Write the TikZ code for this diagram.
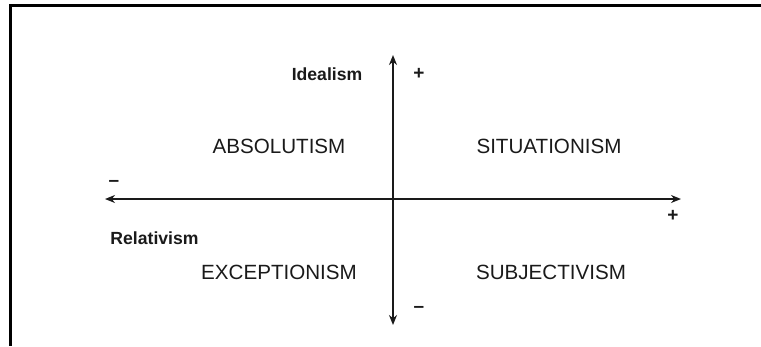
\documentclass[tikz,border=0pt]{standalone}
\usepackage{fontspec}
\setmainfont{Liberation Sans}
\usepackage{xcolor}
\definecolor{cInk}{HTML}{1A1A1A}
\usetikzlibrary{positioning,arrows.meta}
\tikzset{
  frame-line/.style={line width=2.6pt,draw=black},
  axis-arrow/.style={{Stealth[length=10pt,width=8pt]}-{Stealth[length=10pt,width=8pt]},line width=2.3pt,draw=cInk},
  quad-label/.style={inner sep=0pt,text=cInk,font=\fontsize{20.6}{24}\selectfont},
  axis-name/.style={inner sep=0pt,text=cInk,font=\bfseries\fontsize{17.6}{21}\selectfont},
  axis-sign/.style={inner sep=0pt,text=cInk,font=\bfseries\fontsize{19}{22}\selectfont},
}
\begin{document}
\begin{tikzpicture}[x=1pt,y=-1pt]
  \useasboundingbox (0,0) rectangle (761,346);
  % frame (top and left only)
  \draw[frame-line] (761,5.5) -- (10.5,5.5) -- (10.5,346);
  % axes
  \coordinate (ideal-top) at (393,55);
  \coordinate (ideal-bot) at (393,325);
  \coordinate (rel-left)  at (105,199);
  \coordinate (rel-right) at (681,199);
  \draw[axis-arrow] (ideal-bot) -- (ideal-top);
  \draw[axis-arrow] (rel-left) -- (rel-right);
  % axis names and signs
  \node[axis-name] (idealism)   at (327,74)  {Idealism};
  \node[axis-name] (relativism) at (154.5,238) {Relativism};
  \node[axis-sign] (ideal-plus)  at (419,74)  {+};
  \node[axis-sign] (ideal-minus) at (419,309) {–};
  \node[axis-sign] (rel-minus)   at (114,183) {–};
  \node[axis-sign] (rel-plus)    at (673,216) {+};
  % quadrants
  \node[quad-label] (absolutism)    at (279,146) {ABSOLUTISM};
  \node[quad-label] (situationism)  at (549,146) {SITUATIONISM};
  \node[quad-label] (exceptionism)  at (279,272) {EXCEPTIONISM};
  \node[quad-label] (subjectivism)  at (551,272) {SUBJECTIVISM};
\end{tikzpicture}
\end{document}
